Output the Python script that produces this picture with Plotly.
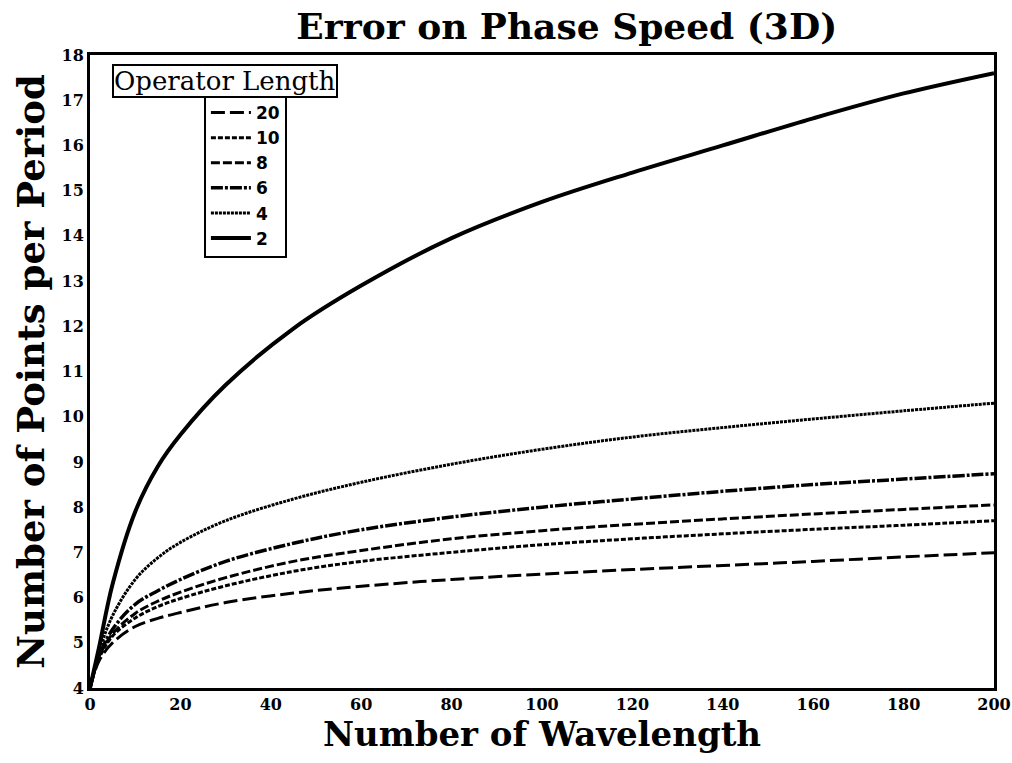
import plotly.graph_objects as go

# Number of wavelengths (x) shared by every curve
wavelengths = [0, 2, 5, 10, 15, 20, 30, 45, 60, 80, 100, 120, 140, 160, 180, 200]

# Points per period needed, one list per operator length
op_20 = [4.0, 4.6, 5.0, 5.36, 5.54, 5.67, 5.89, 6.1, 6.25, 6.4, 6.52, 6.62, 6.71, 6.8, 6.9, 6.99]
op_10 = [4.0, 4.65, 5.15, 5.55, 5.8, 5.98, 6.26, 6.58, 6.8, 7.0, 7.17, 7.3, 7.41, 7.51, 7.6, 7.7]
op_8 = [4.0, 4.7, 5.2, 5.65, 5.92, 6.12, 6.44, 6.8, 7.04, 7.3, 7.48, 7.62, 7.74, 7.85, 7.95, 8.05]
op_6 = [4.0, 4.7, 5.3, 5.85, 6.15, 6.4, 6.8, 7.2, 7.5, 7.78, 8.0, 8.18, 8.35, 8.5, 8.62, 8.74]
op_4 = [4.0, 4.8, 5.6, 6.4, 6.88, 7.22, 7.7, 8.18, 8.55, 8.95, 9.28, 9.55, 9.76, 9.95, 10.13, 10.3]
op_2 = [4.0, 4.9, 6.3, 7.9, 8.9, 9.6, 10.7, 11.95, 12.9, 13.95, 14.75, 15.4, 16.0, 16.6, 17.15, 17.6]

series_names = ["20", "10", "8", "6", "4", "2"]
series_values = [op_20, op_10, op_8, op_6, op_4, op_2]
dash_styles = ["14px,5px", "5px,2px", "9px,3px", "12px,2px,3px,2px", "3px,1px", "solid"]
line_widths = [3, 3, 3, 3.5, 3, 4]

x_ticks = list(range(0, 201, 20))
y_ticks = list(range(4, 19))

fig = go.Figure()
for name, vals, dash, w in zip(series_names, series_values, dash_styles, line_widths):
    fig.add_trace(go.Scatter(
        x=wavelengths, y=vals, name=name, mode="lines",
        line=dict(color="black", width=w, dash=dash, shape="spline", smoothing=1.0),
    ))

serif = "DejaVu Serif"

fig.update_layout(
    width=1012, height=763,
    paper_bgcolor="white", plot_bgcolor="white",
    margin=dict(l=90, r=18, t=55, b=75),
    title=dict(text="Error on Phase Speed (3D)", x=0.56, xanchor="center",
               y=0.966, yanchor="middle",
               font=dict(family=serif, size=36, color="black", weight="bold")),
    showlegend=True,
    legend=dict(x=0.126, y=0.94, xanchor="left", yanchor="top",
                bgcolor="white", bordercolor="black", borderwidth=2,
                font=dict(family="DejaVu Sans", size=17, color="black", weight="bold"),
                tracegroupgap=0, itemwidth=40),
    annotations=[dict(
        text="Operator Length", xref="paper", yref="paper",
        x=0.024, y=0.985, xanchor="left", yanchor="top", showarrow=False,
        font=dict(family=serif, size=26, color="black"),
        bordercolor="black", borderwidth=2, borderpad=0, bgcolor="white",
    )],
)

fig.update_xaxes(
    range=[0, 200], tickvals=x_ticks, ticktext=[str(v) for v in x_ticks],
    showgrid=False, zeroline=False, ticks="", ticklabeloverflow="allow",
    automargin=False,
    showline=True, linecolor="black", linewidth=3, mirror=True,
    tickfont=dict(family=serif, size=16, color="black", weight="bold"),
    title=dict(text="Number of Wavelength", standoff=6,
               font=dict(family=serif, size=34, color="black", weight="bold")),
)
fig.update_yaxes(
    range=[4, 18], tickvals=y_ticks, ticktext=[str(v) for v in y_ticks],
    showgrid=False, zeroline=False, ticks="", ticklabeloverflow="allow",
    automargin=False,
    showline=True, linecolor="black", linewidth=3, mirror=True,
    tickfont=dict(family=serif, size=16, color="black", weight="bold"),
    title=dict(text="Number of Points per Period", standoff=6,
               font=dict(family=serif, size=37, color="black", weight="bold")),
)

fig.write_html("out.html")
